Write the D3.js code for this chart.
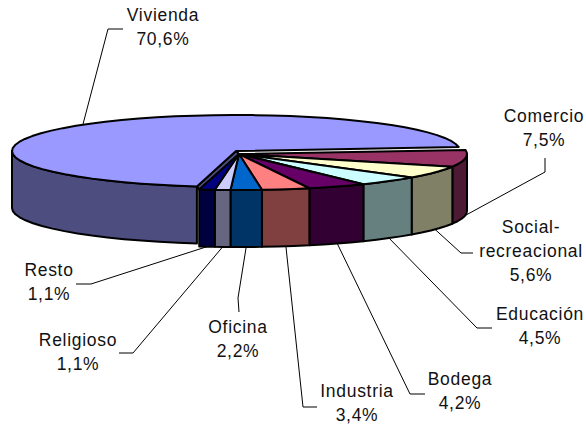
<!DOCTYPE html>
<html>
<head>
<meta charset="utf-8">
<script src="https://cdn.jsdelivr.net/npm/d3@7"></script>
<style>
    html, body { margin: 0; padding: 0; background: #fff; }
    svg { display: block; }
    text { font-family: "Liberation Sans", Arial, sans-serif; font-size: 17.5px; letter-spacing: .7px; fill: #111; text-anchor: middle; }
</style>
</head>
<body>
<div id="chart"></div>
<script>
// Data, in drawing order (clockwise from the right end of the pie)
const categories = ['Comercio', 'Social-recreacional', 'Educación', 'Bodega', 'Industria', 'Oficina', 'Religioso', 'Resto', 'Vivienda'];
const values = [7.5, 5.6, 4.5, 4.2, 3.4, 2.2, 1.1, 1.1, 70.6];
const valueLabels = ['7,5%', '5,6%', '4,5%', '4,2%', '3,4%', '2,2%', '1,1%', '1,1%', '70,6%'];
const labelLines = [['Comercio'], ['Social-', 'recreacional'], ['Educación'], ['Bodega'], ['Industria'], ['Oficina'], ['Religioso'], ['Resto'], ['Vivienda']];

// Colours
const topColors = ['#993366', '#FFFFCC', '#CCFFFF', '#660066', '#FF8080', '#0066CC', '#CCCCFF', '#000080', '#9999FF'];
const sideColors = ['#4D1A33', '#808066', '#668080', '#330033', '#804040', '#003366', '#666680', '#000040', '#4D4D80'];

// Label layout: centre x, first baseline, then the leader's elbow and end
const labelX = [544, 531, 540, 460, 357, 238, 78, 49, 163];
const labelY = [122, 233, 320, 385, 397, 333, 346, 276, 21];
const lineHeight = 24;
const leaderPoints = [
    [[545, 172], [545, 158]],
    [[461, 253], [473, 253]],
    [[477, 328], [492, 328]],
    [[410, 394], [425, 394]],
    [[303, 407], [317, 407]],
    [[238, 298], [239, 312]],
    [[133, 353], [119, 353]],
    [[91, 284], [76, 284]],
    [[108, 29], [123, 29]]
];

const width = 586, height = 425;
const depth = 57;
const ry = 36;
const deg = Math.PI / 180;
const startRotation = 83.7 * deg; // d3.pie angle of the first slice

// The small slices share one centre, Vivienda is pulled out of the pie
const pieGeom = { cx: 239, cy: 154, rx: 228 };
const explodedGeom = { cx: 236, cy: 151, rx: 224 };
const geomOf = d => d.index === 8 ? explodedGeom : pieGeom;

const svg = d3.select('#chart').append('svg')
    .attr('width', width).attr('height', height);

const pie = d3.pie().sort(null)
    .startAngle(startRotation)
    .endAngle(startRotation + 2 * Math.PI);
const slices = pie(values);

// d3.pie angle -> point on the tilted ellipse
function project(g, a, drop = 0) {
    const t = a - Math.PI / 2;
    return [g.cx + g.rx * Math.cos(t), g.cy + ry * Math.sin(t) + drop];
}

function rim(g, a0, a1, drop = 0) {
    const steps = Math.max(2, Math.ceil((a1 - a0) / (5 * deg)));
    return d3.range(steps + 1).map(i => project(g, a0 + (a1 - a0) * i / steps, drop));
}

const line = d3.line();

// Only the front half of the wall can be seen (angles 90deg..270deg in d3.pie terms)
function wallPath(d) {
    const g = geomOf(d);
    const a0 = Math.max(d.startAngle, Math.PI / 2);
    const a1 = Math.min(d.endAngle, 3 * Math.PI / 2);
    if (a1 <= a0) return null;
    return line([...rim(g, a0, a1), ...rim(g, a0, a1, depth).reverse()]) + 'Z';
}

function topPath(d) {
    const g = geomOf(d);
    return line([[g.cx, g.cy], ...rim(g, d.startAngle, d.endAngle)]) + 'Z';
}

const small = slices.slice(0, 8);
const house = slices[8];

const paint = sel => sel
    .attr('stroke', '#000')
    .attr('stroke-width', 2)
    .attr('stroke-linejoin', 'round');

// Vivienda first, it sits behind everything
paint(svg.append('path').datum(house)
    .attr('d', wallPath)
    .attr('fill', sideColors[8]));

// Cut face showing in the gap left by the pulled out slice
const resto = small[7];
paint(svg.append('path')
    .attr('d', line([
        [explodedGeom.cx, explodedGeom.cy],
        project(explodedGeom, house.startAngle),
        project(pieGeom, resto.endAngle),
        [pieGeom.cx, pieGeom.cy]
    ]) + 'Z')
    .attr('fill', sideColors[8]));

paint(svg.append('path').datum(house)
    .attr('d', topPath)
    .attr('fill', topColors[8]));

paint(svg.selectAll('path.wall').data(small).join('path')
    .classed('wall', true)
    .attr('d', wallPath)
    .attr('fill', d => sideColors[d.index]));

paint(svg.selectAll('path.top').data(small).join('path')
    .classed('top', true)
    .attr('d', topPath)
    .attr('fill', d => topColors[d.index]));

// Leader lines start on the rim at the middle of their slice
svg.selectAll('path.leader').data(slices).join('path')
    .classed('leader', true)
    .attr('fill', 'none')
    .attr('stroke', '#000')
    .attr('stroke-width', 1)
    .attr('d', d => {
        const mid = (d.startAngle + d.endAngle) / 2;
        const front = Math.sin(mid - Math.PI / 2) > 0;
        return line([project(geomOf(d), mid, front ? depth : 0), ...leaderPoints[d.index]]);
    });

// Labels
categories.forEach((name, i) => {
    const t = svg.append('text').attr('class', 'label');
    [...labelLines[i], valueLabels[i]].forEach((s, j) => {
        t.append('tspan')
            .attr('x', labelX[i])
            .attr('y', labelY[i] + j * lineHeight)
            .text(s);
    });
});
</script>
</body>
</html>
